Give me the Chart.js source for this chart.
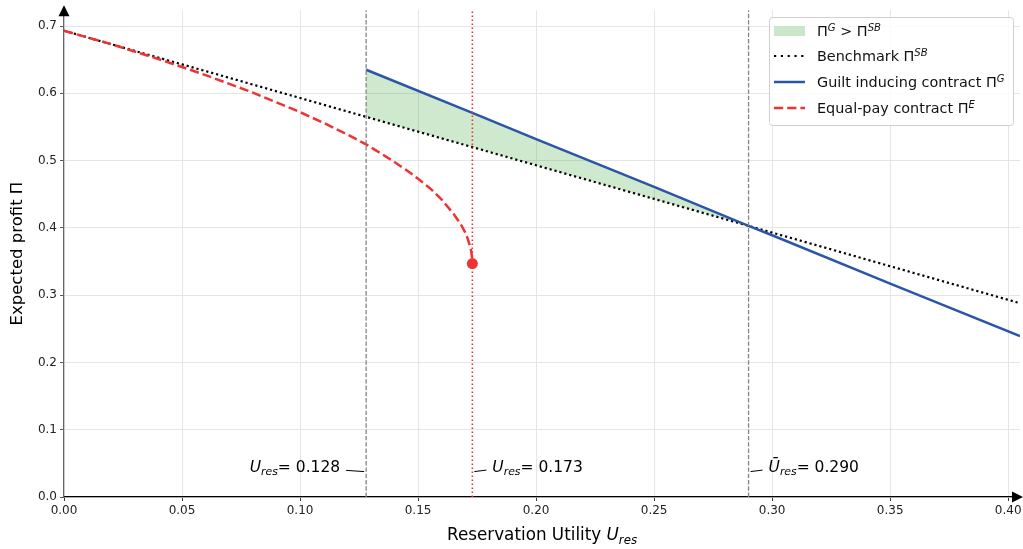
<!DOCTYPE html>
<html>
<head>
<meta charset="utf-8">
<script src="https://cdn.jsdelivr.net/npm/chart.js@4"></script>
<style>
html,body{margin:0;padding:0;background:#fff;}
#wrap{width:1023px;height:549px;position:relative;}
canvas{display:block;}
</style>
</head>
<body>
<div id="wrap"><canvas id="c" width="1023" height="549"></canvas></div>
<script>
// ---------- data ----------
const benchX = [0, 0.05, 0.10, 0.128, 0.15, 0.173, 0.20, 0.25, 0.29, 0.30, 0.35, 0.405];
const benchY = [0.693, 0.643, 0.593, 0.565, 0.543, 0.520, 0.493, 0.443, 0.403, 0.393, 0.343, 0.288];

const guiltX = [0.128, 0.173, 0.20, 0.25, 0.29, 0.30, 0.35, 0.405];
const guiltY = [0.635, 0.571, 0.532, 0.461, 0.403, 0.389, 0.317, 0.239];

const equalX = [0, 0.02, 0.04, 0.06, 0.08, 0.10, 0.11, 0.12, 0.128, 0.135, 0.14, 0.145, 0.15, 0.155, 0.16, 0.165, 0.168, 0.170, 0.171, 0.172, 0.1725, 0.1729, 0.173];
const equalY = [0.693, 0.673, 0.651, 0.627, 0.601, 0.572, 0.556, 0.539, 0.524, 0.509, 0.498, 0.486, 0.473, 0.459, 0.442, 0.421, 0.406, 0.393, 0.384, 0.373, 0.366, 0.355, 0.347];

const fillX = [0.128, 0.173, 0.20, 0.25, 0.29];
const fillUpper = [0.635, 0.571, 0.532, 0.461, 0.403];
const fillLower = [0.565, 0.520, 0.493, 0.443, 0.403];

const endPoint = {x: 0.173, y: 0.347};
const thresholds = [0.128, 0.173, 0.290];
const thresholdLabels = ['0.128', '0.173', '0.290'];

const xTicks = [0, 0.05, 0.10, 0.15, 0.20, 0.25, 0.30, 0.35, 0.40];
const yTicks = [0, 0.1, 0.2, 0.3, 0.4, 0.5, 0.6, 0.7];
const xMax = 0.405, yMax = 0.7235;

// ---------- styles ----------
const RED = '#ee3333', BLUE = '#2b55a8', GREEN = 'rgba(44,160,44,0.23)', GREEN_LEG = 'rgba(44,160,44,0.25)';
const FONT = '"DejaVu Sans", "Liberation Sans", sans-serif';

const pts = (xs, ys) => xs.map((x, i) => ({x: x, y: ys[i]}));
const vline = (x) => [{x: x, y: 0}, {x: x, y: yMax}];

const datasets = [
  {label: 'fillLower', data: pts(fillX, fillLower), borderWidth: 0, pointRadius: 0, fill: false, order: 20, borderColor: 'rgba(0,0,0,0)'},
  {label: 'fillUpper', data: pts(fillX, fillUpper), borderWidth: 0, pointRadius: 0, order: 19, borderColor: 'rgba(0,0,0,0)',
    fill: {target: 0, above: GREEN, below: GREEN}},
  {label: 'Benchmark', data: pts(benchX, benchY), borderColor: '#000', borderWidth: 2.2, borderDash: [2.2, 2.9], pointRadius: 0, fill: false, order: 8, borderCapStyle: 'butt'},
  {label: 'Guilt', data: pts(guiltX, guiltY), borderColor: BLUE, borderWidth: 2.5, pointRadius: 0, fill: false, order: 6},
  {label: 'Equal', data: pts(equalX, equalY), borderColor: RED, borderWidth: 2.5, borderDash: [9.2, 4], pointRadius: 0, fill: false, order: 5},
  {label: 'v1', data: vline(thresholds[0]), borderColor: '#858585', borderWidth: 1.3, borderDash: [4.4, 1.9], pointRadius: 0, fill: false, order: 3},
  {label: 'v3', data: vline(thresholds[2]), borderColor: '#858585', borderWidth: 1.3, borderDash: [4.4, 1.9], pointRadius: 0, fill: false, order: 3},
  {label: 'v2', data: vline(thresholds[1]), borderColor: RED, borderWidth: 1.6, borderDash: [1.6, 2.4], pointRadius: 0, fill: false, order: 2},
  {label: 'end', data: [endPoint], borderColor: RED, backgroundColor: RED, pointRadius: 5.5, pointBorderWidth: 0, showLine: false, order: 1}
];

// ---------- math-ish text helper ----------
function drawRich(ctx, parts, x, y, size, align) {
  const measure = (p) => {
    const s = p.sub || p.sup ? size * 0.7 : size;
    ctx.font = (p.italic ? 'italic ' : '') + s + 'px ' + FONT;
    return ctx.measureText(p.t).width;
  };
  let total = 0;
  parts.forEach(p => total += measure(p));
  let cx = align === 'center' ? x - total / 2 : (align === 'right' ? x - total : x);
  ctx.textAlign = 'left';
  ctx.textBaseline = 'alphabetic';
  parts.forEach(p => {
    const s = p.sub || p.sup ? size * 0.7 : size;
    ctx.font = (p.italic ? 'italic ' : '') + s + 'px ' + FONT;
    let dy = 0;
    if (p.sub) dy = size * 0.25;
    if (p.sup) dy = -size * 0.38;
    ctx.fillText(p.t, cx, y + dy);
    cx += ctx.measureText(p.t).width;
  });
  return total;
}

const overlay = {
  id: 'overlay',
  afterDraw(chart) {
    const ctx = chart.ctx;
    const xs = chart.scales.x, ys = chart.scales.y;
    const ca = chart.chartArea;
    ctx.save();
    ctx.fillStyle = '#000';
    // arrows
    ctx.beginPath();
    ctx.moveTo(ca.left, ca.top - 5);
    ctx.lineTo(ca.left - 5.5, ca.top + 6);
    ctx.lineTo(ca.left + 5.5, ca.top + 6);
    ctx.closePath(); ctx.fill();
    ctx.beginPath();
    ctx.moveTo(ca.right + 3, ca.bottom);
    ctx.lineTo(ca.right - 8, ca.bottom - 5.5);
    ctx.lineTo(ca.right - 8, ca.bottom + 5.5);
    ctx.closePath(); ctx.fill();

    // annotations
    const annY = ys.getPixelForValue(0.04);
    ctx.fillStyle = '#000';
    ctx.strokeStyle = '#000';
    ctx.lineWidth = 1;
    const specs = [
      {i: 0, side: 'left', bar: false},
      {i: 1, side: 'right', bar: false},
      {i: 2, side: 'right', bar: true}
    ];
    specs.forEach(s => {
      const px = xs.getPixelForValue(thresholds[s.i]);
      const parts = [{t: s.bar ? 'Ū' : 'U', italic: true}, {t: 'res', italic: true, sub: true}, {t: '= ' + thresholdLabels[s.i]}];
      ctx.beginPath();
      if (s.side === 'left') {
        ctx.moveTo(px - 2, annY + 1.5); ctx.lineTo(px - 20, annY + 0.3);
        ctx.stroke();
        drawRich(ctx, parts, px - 26, annY + 1.5, 15.5, 'right');
      } else {
        ctx.moveTo(px + 2, annY + 1.5); ctx.lineTo(px + 14, annY);
        ctx.stroke();
        drawRich(ctx, parts, px + 20, annY + 1.5, 15.5, 'left');
      }
    });

    // axis titles
    ctx.fillStyle = '#000';
    drawRich(ctx, [{t: 'Reservation Utility '}, {t: 'U', italic: true}, {t: 'res', italic: true, sub: true}], (ca.left + ca.right) / 2, 540, 16.8, 'center');
    ctx.save();
    ctx.translate(22, (ca.top + ca.bottom) / 2);
    ctx.rotate(-Math.PI / 2);
    drawRich(ctx, [{t: 'Expected profit Π'}], 0, 0, 16.5, 'center');
    ctx.restore();

    // legend
    const lx = 769, ly = 17, lw = 244, lh = 108;
    ctx.fillStyle = 'rgba(255,255,255,0.85)';
    ctx.strokeStyle = '#d0d0d0';
    ctx.lineWidth = 1;
    ctx.beginPath();
    if (ctx.roundRect) ctx.roundRect(lx + 0.5, ly + 0.5, lw, lh, 3); else ctx.rect(lx + 0.5, ly + 0.5, lw, lh);
    ctx.fill(); ctx.stroke();
    const rows = [31, 56, 82, 108];
    const hx0 = 774, hx1 = 805, tx = 817, fs = 14.4;
    // row 0: patch
    ctx.fillStyle = GREEN_LEG;
    ctx.fillRect(hx0, rows[0] - 5, hx1 - hx0, 10);
    // row 1: dotted
    ctx.strokeStyle = '#000'; ctx.lineWidth = 2.2; ctx.setLineDash([2.2, 4.6]); ctx.lineCap = 'butt';
    ctx.beginPath(); ctx.moveTo(hx0, rows[1]); ctx.lineTo(hx1, rows[1]); ctx.stroke();
    // row 2: blue
    ctx.strokeStyle = BLUE; ctx.lineWidth = 2.5; ctx.setLineDash([]);
    ctx.beginPath(); ctx.moveTo(hx0, rows[2]); ctx.lineTo(hx1, rows[2]); ctx.stroke();
    // row 3: red dashed
    ctx.strokeStyle = RED; ctx.setLineDash([9.2, 4]);
    ctx.beginPath(); ctx.moveTo(hx0, rows[3]); ctx.lineTo(hx1, rows[3]); ctx.stroke();
    ctx.setLineDash([]);
    ctx.fillStyle = '#111';
    const ty = (r) => r + 5;
    drawRich(ctx, [{t: 'Π'}, {t: 'G', italic: true, sup: true}, {t: ' > Π'}, {t: 'SB', italic: true, sup: true}], tx, ty(rows[0]), fs, 'left');
    drawRich(ctx, [{t: 'Benchmark Π'}, {t: 'SB', italic: true, sup: true}], tx, ty(rows[1]), fs, 'left');
    drawRich(ctx, [{t: 'Guilt inducing contract Π'}, {t: 'G', italic: true, sup: true}], tx, ty(rows[2]), fs, 'left');
    drawRich(ctx, [{t: 'Equal-pay contract Π'}, {t: 'E', italic: true, sup: true}], tx, ty(rows[3]), fs, 'left');
    ctx.restore();
  }
};

new Chart(document.getElementById('c'), {
  type: 'line',
  data: {datasets: datasets},
  plugins: [overlay],
  options: {
    responsive: false,
    animation: false,
    parsing: true,
    layout: {autoPadding: false, padding: {top: 8, right: 3, left: 0, bottom: 0}},
    plugins: {legend: {display: false}, tooltip: {enabled: false}},
    elements: {line: {tension: 0}},
    scales: {
      x: {
        type: 'linear', min: 0, max: xMax,
        afterBuildTicks: (axis) => { axis.ticks = xTicks.map(v => ({value: v})); },
        afterFit: (axis) => { axis.height = 52; axis.paddingRight = 0; axis.paddingLeft = 0; },
        ticks: {callback: (v) => Number(v).toFixed(2), color: '#222', font: {family: FONT, size: 12}, padding: 3, maxRotation: 0, autoSkip: false},
        grid: {color: '#e2e2e2', lineWidth: 0.9, tickColor: '#222', tickLength: 4, drawTicks: true},
        border: {color: '#000', width: 1.2}
      },
      y: {
        type: 'linear', min: 0, max: yMax,
        afterBuildTicks: (axis) => { axis.ticks = yTicks.map(v => ({value: v})); },
        afterFit: (axis) => { axis.width = 64; },
        ticks: {callback: (v) => Number(v).toFixed(1), color: '#222', font: {family: FONT, size: 12}, padding: 3, autoSkip: false},
        grid: {color: '#e2e2e2', lineWidth: 0.9, tickColor: '#444', tickLength: 4, drawTicks: true},
        border: {color: '#666', width: 1.2}
      }
    }
  }
});
</script>
</body>
</html>
